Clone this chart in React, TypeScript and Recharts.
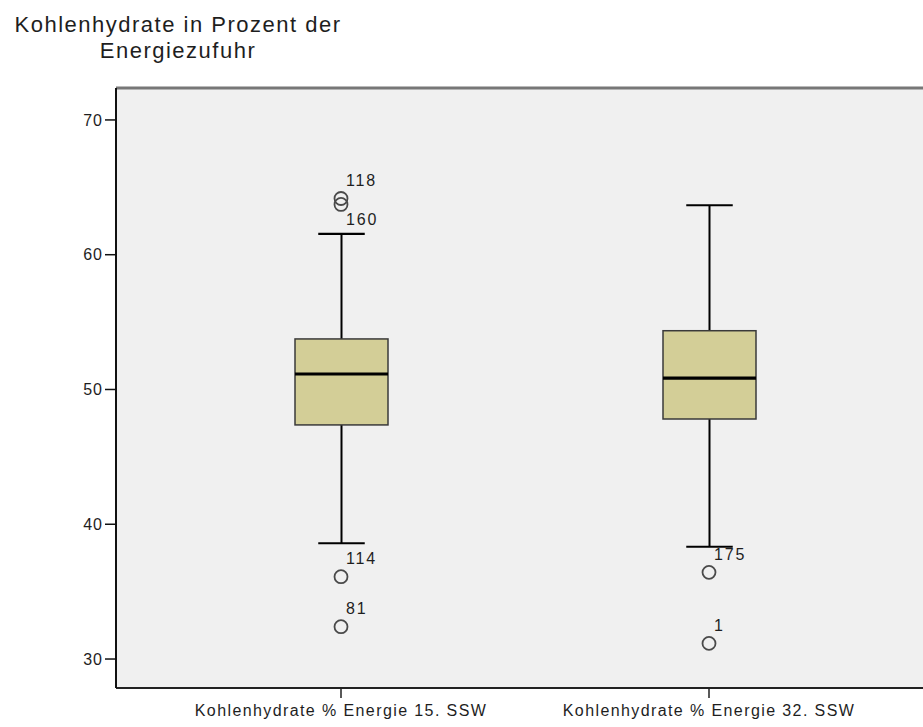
import React from "react";
import {
  ComposedChart,
  Bar,
  Scatter,
  XAxis,
  YAxis,
  CartesianGrid,
  ReferenceLine,
} from "recharts";

// values
const categories = [
  "Kohlenhydrate % Energie 15. SSW",
  "Kohlenhydrate % Energie 32. SSW",
];
const lowerWhisker = [38.59, 38.33];
const quartile1 = [47.37, 47.81];
const medians = [51.15, 50.85];
const quartile3 = [53.75, 54.36];
const upperWhisker = [61.54, 63.67];

const outlierGroup = [0, 0, 0, 0, 1, 1];
const outlierValue = [64.17, 63.73, 36.11, 32.4, 36.43, 31.16];
const outlierCase = ["118", "160", "114", "81", "175", "1"];

const yTicks = [30, 40, 50, 60, 70];
const yDomain = [27.85, 72.37];

const FONT = '"Liberation Sans", Arial, sans-serif';

const boxData = categories.map((name, i) => ({
  name,
  box: [quartile1[i], quartile3[i]],
  low: lowerWhisker[i],
  q1: quartile1[i],
  median: medians[i],
  q3: quartile3[i],
  high: upperWhisker[i],
}));

const outlierData = outlierValue.map((value, i) => ({
  name: categories[outlierGroup[i]],
  group: outlierGroup[i],
  value,
  id: outlierCase[i],
}));

function BoxShape(props: any) {
  const { x, y, width, height, payload } = props;
  const top = Math.min(y, y + height);
  const h = Math.abs(height);
  const perUnit = h / (payload.q3 - payload.q1);
  const toY = (v: number) => top + (payload.q3 - v) * perUnit;
  const cx = x + width / 2;
  const cap = width / 4;
  const yHigh = toY(payload.high);
  const yLow = toY(payload.low);
  const yMed = toY(payload.median);
  return (
    <g>
      <line x1={cx} x2={cx} y1={yHigh} y2={top} stroke="#000" strokeWidth={2} />
      <line x1={cx} x2={cx} y1={top + h} y2={yLow} stroke="#000" strokeWidth={2} />
      <line x1={cx - cap} x2={cx + cap} y1={yHigh} y2={yHigh} stroke="#000" strokeWidth={2.2} />
      <line x1={cx - cap} x2={cx + cap} y1={yLow} y2={yLow} stroke="#000" strokeWidth={2.2} />
      <rect x={x} y={top} width={width} height={h} fill="#d3ce97" stroke="#3a3a3a" strokeWidth={1.5} />
      <line x1={x} x2={x + width} y1={yMed} y2={yMed} stroke="#000" strokeWidth={3.2} />
    </g>
  );
}

function OutlierShape(props: any) {
  const { cx, cy, payload } = props;
  // label goes under the circle when another outlier sits just above it
  const crowded = outlierData.some(
    (o) => o.group === payload.group && o.value > payload.value && o.value - payload.value < 1
  );
  const ty = crowded ? cy + 15 : cy - 18;
  return (
    <g>
      <circle cx={cx} cy={cy} r={6.5} fill="none" stroke="#4a4a4a" strokeWidth={1.8} />
      <text
        x={cx + 5}
        y={ty}
        dy="0.36em"
        fontSize={16}
        fontFamily={FONT}
        letterSpacing={1.8}
        fill="#1e1e1e"
      >
        {payload.id}
      </text>
    </g>
  );
}

export default function App() {
  return (
    <div
      style={{
        position: "absolute",
        left: 0,
        top: 0,
        width: 923,
        height: 727,
        overflow: "hidden",
        background: "#ffffff",
      }}
    >
      <div
        style={{
          position: "absolute",
          left: -2,
          top: 12,
          width: 360,
          textAlign: "center",
          fontFamily: FONT,
          fontSize: 22,
          letterSpacing: 1.5,
          lineHeight: "26px",
          color: "#1e1e1e",
        }}
      >
        Kohlenhydrate in Prozent der
        <br />
        Energiezufuhr
      </div>
      <ComposedChart
        width={923}
        height={727}
        data={boxData}
        margin={{ top: 88, right: 0, bottom: 0, left: 0 }}
      >
        <CartesianGrid fill="#f0f0f0" horizontal={false} vertical={false} />
        <XAxis
          dataKey="name"
          type="category"
          allowDuplicatedCategory={false}
          padding={{ left: 41, right: 30 }}
          height={39}
          tickSize={10}
          tickMargin={7}
          axisLine={{ stroke: "#222", strokeWidth: 2 }}
          tickLine={{ stroke: "#222", strokeWidth: 1.5 }}
          tick={{ fill: "#1e1e1e", fontSize: 16, fontFamily: FONT, letterSpacing: 1.4 }}
        />
        <YAxis
          type="number"
          domain={yDomain}
          ticks={yTicks}
          allowDataOverflow
          width={116}
          tickSize={11}
          tickMargin={2}
          axisLine={{ stroke: "#111", strokeWidth: 2 }}
          tickLine={{ stroke: "#111", strokeWidth: 1.5 }}
          tick={{ fill: "#1e1e1e", fontSize: 16, fontFamily: FONT, letterSpacing: 1 }}
        />
        <ReferenceLine y={yDomain[1]} stroke="#777" strokeWidth={3} />
        <Bar dataKey="box" barSize={93} shape={BoxShape} isAnimationActive={false} />
        <Scatter
          data={outlierData}
          dataKey="value"
          shape={OutlierShape}
          isAnimationActive={false}
        />
      </ComposedChart>
    </div>
  );
}
